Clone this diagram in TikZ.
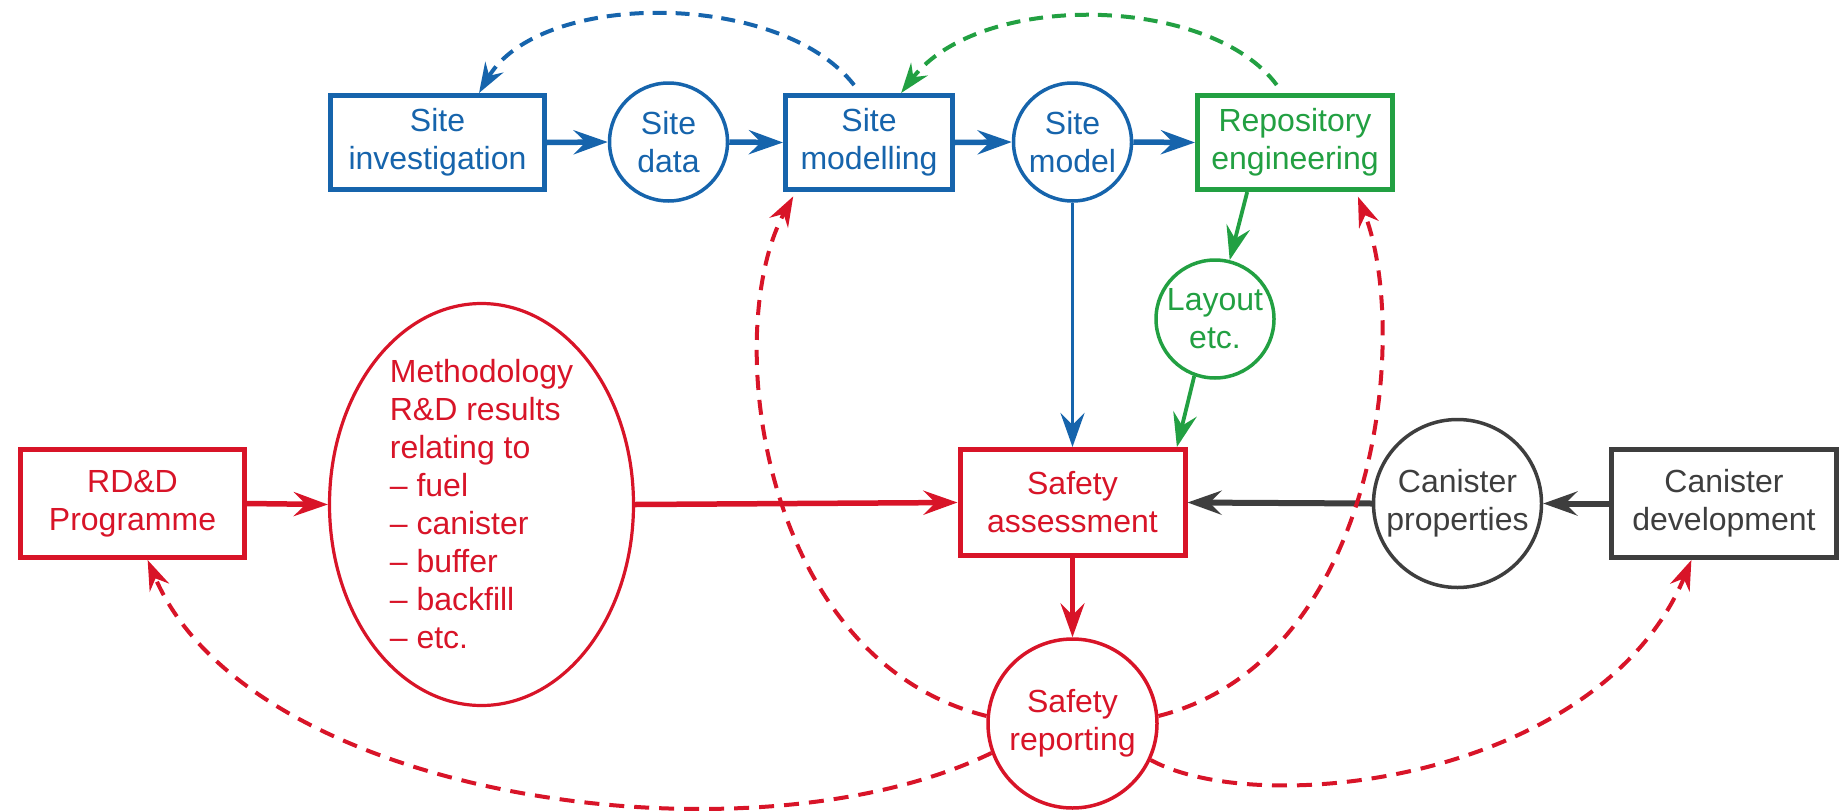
\documentclass[tikz,border=0pt]{standalone}
\usepackage{fontspec}
\setmainfont{Liberation Sans}
\usetikzlibrary{arrows.meta,shapes.geometric,calc}
\definecolor{cblue}{RGB}{22,100,172}
\definecolor{cred}{RGB}{216,20,40}
\definecolor{cgreen}{RGB}{34,160,66}
\definecolor{cgrey}{RGB}{62,62,62}
\begin{document}
\begin{tikzpicture}[x=1pt,y=-1pt,
  txt/.style={font=\fontsize{32}{38}\selectfont, align=center, inner sep=0pt},
  rbox/.style={txt, draw=#1, text=#1, rectangle, line width=5pt, fill=white, minimum height=94pt},
  lbox/.style={rbox=#1, minimum height=108pt},
  cnode/.style={txt, draw=#1, text=#1, circle, line width=3.5pt, fill=white},
  tipA/.style={-{Stealth[length=34pt,width=24pt,inset=12pt]}},
  tipD/.style={-{Stealth[length=30pt,width=21pt,inset=10pt]}},
  thickc/.style={tipA, line width=5.5pt},
  thinc/.style={tipA, line width=3.8pt},
  dashc/.style={tipD, line width=4pt, dash pattern=on 14pt off 9pt}
]
\useasboundingbox (0,0) rectangle (1841,811);

% nodes
\node[rbox=cblue, minimum width=214pt] (SI) at (437.5,142.5) {Site\\investigation};
\node[cnode=cblue, minimum size=118pt] (SD) at (668.5,142) {Site\\data};
\node[rbox=cblue, minimum width=167pt] (SM) at (869,142.5) {Site\\modelling};
\node[cnode=cblue, minimum size=118pt] (SMo) at (1072.5,142) {Site\\model};
\node[rbox=cgreen, minimum width=195pt] (RE) at (1295,142.5) {Repository\\engineering};
\node[cnode=cgreen, minimum size=118pt] (LA) at (1215,319) {Layout\\etc.};
\node[lbox=cred, minimum width=224pt] (RD) at (132.5,503.5) {RD\&D\\Programme};
\node[txt, draw=cred, text=cred, ellipse, line width=3.2pt, fill=white, align=left,
      inner xsep=0pt, inner ysep=-30pt, minimum width=304pt, minimum height=402pt]
      (EL) at (481.5,504.5) {Methodology\\R\&D results\\relating to\\– fuel\\– canister\\– buffer\\– backfill\\– etc.};
\node[lbox=cred, minimum width=225pt, minimum height=106pt] (SA) at (1072.5,502.5) {Safety\\assessment};
\node[cnode=cgrey, minimum size=168pt] (CP) at (1457.5,503.5) {Canister\\properties};
\node[lbox=cgrey, minimum width=225pt] (CD) at (1724,503.5) {Canister\\development};
\node[cnode=cred, minimum size=169pt] (SR) at (1072.5,723.5) {Safety\\reporting};

% solid connectors
\draw[thickc, cblue] (SI.east) -- (SD.west);
\draw[thickc, cblue] (SD.east) -- (SM.west);
\draw[thickc, cblue] (SM.east) -- (SMo.west);
\draw[thickc, cblue] (SMo.east) -- (RE.west);
\draw[thinc, cblue] (SMo.south) -- (SA.north);
\draw[thinc, cgreen] (RE.-134) -- (LA.76);
\draw[thinc, cgreen] (LA.-110) -- (SA.28);
\draw[thickc, cred] (RD.east) -- (EL.west);
\draw[thickc, cred] (EL.east) -- (SA.west);
\draw[thinc, cred, line width=4.5pt] (SA.south) -- (SR.north);
\draw[thickc, cgrey, line width=6pt] (CP.west) -- (SA.east);
\draw[thickc, cgrey, line width=6pt] (CD.west) -- (CP.east);

% dashed feedback connectors
\draw[dashc, cblue, shorten <=10pt] (SM.100) .. controls (780,-10) and (540,-10) .. (SI.50);
\draw[dashc, cgreen, shorten <=10pt] (RE.104) .. controls (1210,-5) and (980,-10) .. (SM.57);
\draw[dashc, cred, dash pattern=on 15pt off 10pt, shorten >=5pt] (SR.175) .. controls (760,660) and (720,330) .. (SM.214);
\draw[dashc, cred, dash pattern=on 15pt off 10pt, shorten >=5pt] (SR.5) .. controls (1380,660) and (1410,330) .. (RE.-39.5);
\draw[dashc, cred, dash pattern=on 15pt off 10pt] (SR.200) .. controls (750,870) and (250,800) .. (RD.-75);
\draw[dashc, cred, dash pattern=on 15pt off 10pt] (SR.-25) .. controls (1260,820) and (1600,780) .. (CD.240);
\end{tikzpicture}
\end{document}
